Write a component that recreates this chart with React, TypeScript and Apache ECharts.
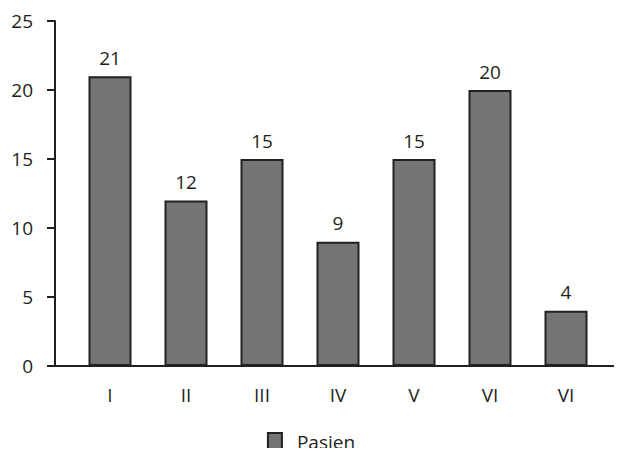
import React, { useEffect, useRef } from "react";
import * as echarts from "echarts";

const categories = ["I", "II", "III", "IV", "V", "VI", "VI"];
const pasien = [21, 12, 15, 9, 15, 20, 4];
const seriesName = "Pasien";
const yMin = 0;
const yMax = 25;
const yInterval = 5;

const FONT = "'Open Sans', sans-serif";
const INK = "#231f20";
const FS = 19;

export default function App() {
  const ref = useRef<HTMLDivElement>(null);
  useEffect(() => {
    if (!ref.current) return;
    const chart = echarts.init(ref.current, null, { renderer: "svg" });
    chart.setOption({
      animation: false,
      backgroundColor: "#ffffff",
      textStyle: { fontFamily: FONT, color: INK },
      grid: [
        { left: 72, right: 18, top: 21, bottom: 90, containLabel: false },
        { left: 55, right: 0, top: 21, bottom: 90, containLabel: false },
      ],
      legend: {
        data: [seriesName],
        top: 432,
        left: "center",
        padding: 0,
        itemWidth: 14,
        itemHeight: 17,
        itemGap: 10,
        textStyle: { fontFamily: FONT, fontSize: FS, color: INK, padding: [0, 0, 0, 10] },
        icon: "rect",
      },
      xAxis: [
        {
          type: "category",
          gridIndex: 0,
          data: categories,
          axisLine: { show: false },
          axisTick: { show: false },
          axisLabel: { fontFamily: FONT, fontSize: FS, color: INK, margin: 19 },
        },
        {
          type: "value",
          gridIndex: 1,
          min: 0,
          max: 1,
          axisLine: { show: true, lineStyle: { color: INK, width: 2 } },
          axisTick: { show: false },
          axisLabel: { show: false },
          splitLine: { show: false },
        },
      ],
      yAxis: [
        {
          type: "value",
          gridIndex: 0,
          min: yMin,
          max: yMax,
          interval: yInterval,
          offset: 17,
          axisLine: { show: true, lineStyle: { color: INK, width: 2 } },
          axisTick: { show: true, length: 8, lineStyle: { color: INK, width: 2 } },
          axisLabel: { fontFamily: FONT, fontSize: FS, color: INK, margin: 22 },
          splitLine: { show: false },
        },
        {
          type: "value",
          gridIndex: 1,
          min: 0,
          max: 1,
          show: false,
        },
      ],
      series: [
        {
          name: seriesName,
          type: "bar",
          xAxisIndex: 0,
          yAxisIndex: 0,
          data: pasien,
          barWidth: 43,
          itemStyle: { color: "#747474", borderColor: INK, borderWidth: 2 },
          label: {
            show: true,
            position: "top",
            distance: 9,
            fontFamily: FONT,
            fontSize: FS,
            color: INK,
          },
        },
      ],
    });
    return () => chart.dispose();
  }, []);
  return <div ref={ref} style={{ width: 622, height: 456, margin: -8 }} />;
}
